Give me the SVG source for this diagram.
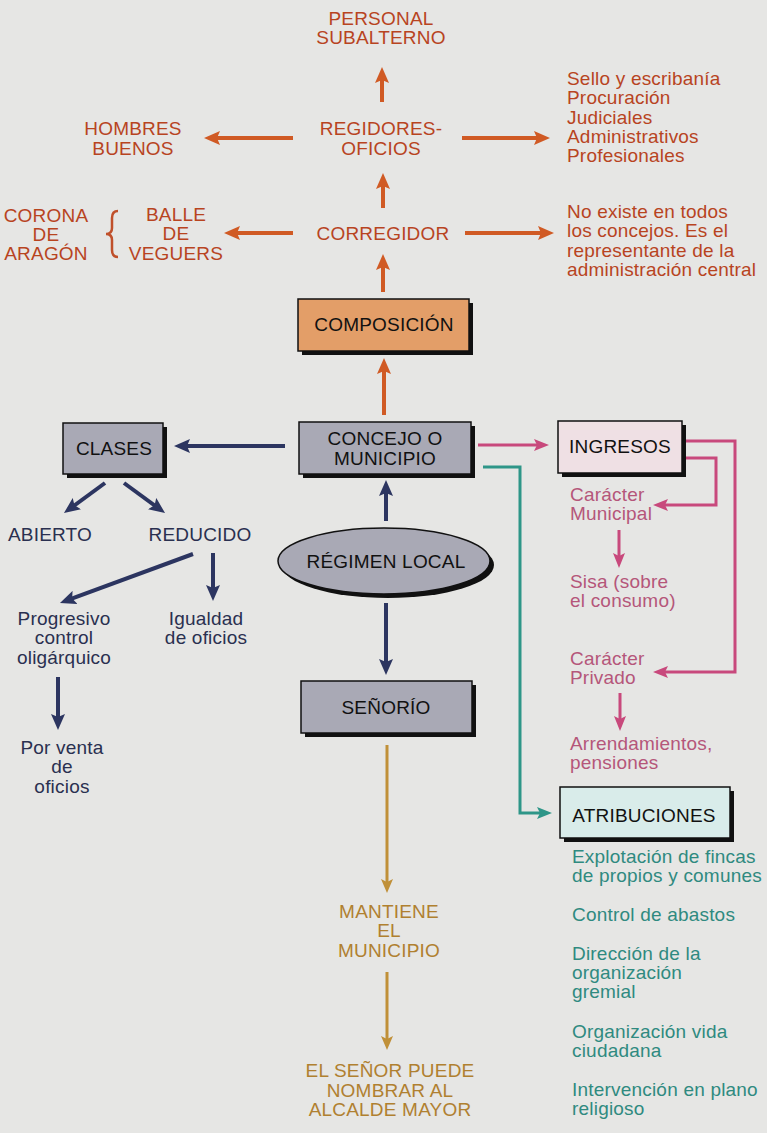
<svg xmlns="http://www.w3.org/2000/svg" width="767" height="1133" viewBox="0 0 767 1133">
<style>
text{font-family:"Liberation Sans",Arial,sans-serif;font-size:19px;letter-spacing:0.2px}
.o{fill:#b8441f}
.b{fill:#2a3050}
.p{fill:#b5567a}
.t{fill:#2f8a80}
.g{fill:#b08030}
.k{fill:#111}
.m{text-anchor:middle}
.box{stroke:#111;stroke-width:1.5}
.sh{fill:#111}
.lo{stroke:#d05a24;stroke-width:4;fill:none}
.lb{stroke:#2c3560;stroke-width:4;fill:none}
.lp{stroke:#c8497c;stroke-width:3;fill:none}
.lt{stroke:#2e9688;stroke-width:3;fill:none}
.lg{stroke:#c09038;stroke-width:3;fill:none}
</style>
<defs>
<marker id="ao" markerUnits="userSpaceOnUse" markerWidth="16" markerHeight="14" viewBox="0 0 16 14" refX="10" refY="7" orient="auto"><path d="M0,0 L16,7 L0,14 L3,7 z" fill="#d05a24"/></marker>
<marker id="ab" markerUnits="userSpaceOnUse" markerWidth="16" markerHeight="14" viewBox="0 0 16 14" refX="10" refY="7" orient="auto"><path d="M0,0 L16,7 L0,14 L3,7 z" fill="#2c3560"/></marker>
<marker id="ap" markerUnits="userSpaceOnUse" markerWidth="15" markerHeight="12" viewBox="0 0 15 12" refX="9" refY="6" orient="auto"><path d="M0,0 L15,6 L0,12 L3,6 z" fill="#c8497c"/></marker>
<marker id="at" markerUnits="userSpaceOnUse" markerWidth="15" markerHeight="12" viewBox="0 0 15 12" refX="9" refY="6" orient="auto"><path d="M0,0 L15,6 L0,12 L3,6 z" fill="#2e9688"/></marker>
<marker id="ag" markerUnits="userSpaceOnUse" markerWidth="14" markerHeight="12" viewBox="0 0 14 12" refX="8" refY="6" orient="auto"><path d="M0,0 L14,6 L0,12 L3,6 z" fill="#c09038"/></marker>
</defs>
<rect width="767" height="1133" fill="#e6e6e4"/>

<g id="connectors">
<line class="lo" x1="382" y1="102" x2="382" y2="73" marker-end="url(#ao)"/>
<line class="lo" x1="293" y1="138" x2="210" y2="138" marker-end="url(#ao)"/>
<line class="lo" x1="462" y1="138" x2="544" y2="138" marker-end="url(#ao)"/>
<line class="lo" x1="383" y1="208" x2="383" y2="179" marker-end="url(#ao)"/>
<line class="lo" x1="293" y1="233" x2="230" y2="233" marker-end="url(#ao)"/>
<line class="lo" x1="465" y1="233" x2="548" y2="233" marker-end="url(#ao)"/>
<line class="lo" x1="383" y1="292" x2="383" y2="260" marker-end="url(#ao)"/>
<line class="lo" x1="384" y1="415" x2="384" y2="364" marker-end="url(#ao)"/>
<path d="M118,211 Q112,211 112,218 L112,228 Q112,234 106,234 Q112,234 112,240 L112,250 Q112,257 118,257" stroke="#c0502a" stroke-width="2.5" fill="none"/>

<line class="lb" x1="285" y1="446" x2="180" y2="446" marker-end="url(#ab)"/>
<line class="lb" x1="105" y1="483" x2="68.8" y2="509.5" marker-end="url(#ab)"/>
<line class="lb" x1="124" y1="483" x2="160.2" y2="509.5" marker-end="url(#ab)"/>
<line class="lb" x1="193" y1="554" x2="65.6" y2="600.9" marker-end="url(#ab)"/>
<line class="lb" x1="213" y1="553" x2="213" y2="595" marker-end="url(#ab)"/>
<line class="lb" x1="58" y1="677" x2="58" y2="724" marker-end="url(#ab)"/>
<line class="lb" x1="386" y1="521" x2="386" y2="486" marker-end="url(#ab)"/>
<line class="lb" x1="386" y1="603" x2="386" y2="669" marker-end="url(#ab)"/>

<line class="lg" x1="387" y1="745" x2="387" y2="887" marker-end="url(#ag)"/>
<line class="lg" x1="387" y1="972" x2="387" y2="1044" marker-end="url(#ag)"/>

<line class="lp" x1="478" y1="445" x2="543" y2="445" marker-end="url(#ap)"/>
<polyline class="lp" points="682,441 735,441 735,672 659,672" marker-end="url(#ap)"/>
<polyline class="lp" points="682,458 716,458 716,505 659,505" marker-end="url(#ap)"/>
<line class="lp" x1="619" y1="530" x2="619" y2="562" marker-end="url(#ap)"/>
<line class="lp" x1="620" y1="693" x2="620" y2="725" marker-end="url(#ap)"/>

<polyline class="lt" points="483,467 520,467 520,813 546,813" marker-end="url(#at)"/>
</g>

<g id="composicion">
<rect class="sh" x="302" y="303" width="171" height="52"/>
<rect class="box" x="298" y="299" width="171" height="52" fill="#e39e68"/>
<text class="k m" x="384" y="331">COMPOSICIÓN</text>
</g>
<g id="concejo">
<rect class="sh" x="303" y="426" width="172" height="52"/>
<rect class="box" x="299" y="422" width="172" height="52" fill="#a9a9b5"/>
<text class="k m" x="385" y="445">CONCEJO O</text>
<text class="k m" x="385" y="465">MUNICIPIO</text>
</g>
<g id="clases">
<rect class="sh" x="67" y="427" width="100" height="51"/>
<rect class="box" x="63" y="423" width="100" height="51" fill="#a9a9b5"/>
<text class="k m" x="114" y="455">CLASES</text>
</g>
<g id="regimen">
<ellipse class="sh" cx="388" cy="565" rx="106" ry="33"/>
<ellipse class="box" cx="384" cy="561" rx="106" ry="33" fill="#a9a9b5"/>
<text class="k m" x="386" y="568">RÉGIMEN LOCAL</text>
</g>
<g id="senorio">
<rect class="sh" x="305" y="685" width="171" height="52"/>
<rect class="box" x="301" y="681" width="171" height="52" fill="#a9a9b5"/>
<text class="k m" x="386" y="714">SEÑORÍO</text>
</g>
<g id="ingresos">
<rect class="sh" x="562" y="425" width="124" height="52"/>
<rect class="box" x="558" y="421" width="124" height="52" fill="#efe0e4"/>
<text class="k m" x="620" y="453">INGRESOS</text>
</g>
<g id="atribuciones">
<rect class="sh" x="564" y="791" width="170" height="51"/>
<rect class="box" x="560" y="787" width="170" height="51" fill="#d9ecea"/>
<text class="k m" x="644" y="822">ATRIBUCIONES</text>
</g>

<g id="personal"><text class="o m" x="381" y="25">PERSONAL</text><text class="o m" x="381" y="44">SUBALTERNO</text></g>
<g id="regidores"><text class="o m" x="381" y="135">REGIDORES-</text><text class="o m" x="381" y="155">OFICIOS</text></g>
<g id="hombres"><text class="o m" x="133" y="135">HOMBRES</text><text class="o m" x="133" y="155">BUENOS</text></g>
<g id="oficios-list">
<text class="o" x="567" y="85">Sello y escribanía</text>
<text class="o" x="567" y="104">Procuración</text>
<text class="o" x="567" y="124">Judiciales</text>
<text class="o" x="567" y="143">Administrativos</text>
<text class="o" x="567" y="162">Profesionales</text>
</g>
<g id="corregidor"><text class="o m" x="383" y="240">CORREGIDOR</text></g>
<g id="balle"><text class="o m" x="176" y="221">BALLE</text><text class="o m" x="176" y="240">DE</text><text class="o m" x="176" y="260">VEGUERS</text></g>
<g id="corona"><text class="o m" x="46" y="222">CORONA</text><text class="o m" x="46" y="241">DE</text><text class="o m" x="46" y="260">ARAGÓN</text></g>
<g id="noexiste">
<text class="o" x="567" y="218">No existe en todos</text>
<text class="o" x="567" y="237">los concejos. Es el</text>
<text class="o" x="567" y="257">representante de la</text>
<text class="o" x="567" y="276">administración central</text>
</g>

<g id="abierto"><text class="b m" x="50" y="541">ABIERTO</text></g>
<g id="reducido"><text class="b m" x="200" y="541">REDUCIDO</text></g>
<g id="progresivo"><text class="b m" x="64" y="625">Progresivo</text><text class="b m" x="64" y="644">control</text><text class="b m" x="64" y="664">oligárquico</text></g>
<g id="igualdad"><text class="b m" x="206" y="625">Igualdad</text><text class="b m" x="206" y="644">de oficios</text></g>
<g id="porventa"><text class="b m" x="62" y="754">Por venta</text><text class="b m" x="62" y="773">de</text><text class="b m" x="62" y="793">oficios</text></g>

<g id="mantiene"><text class="g m" x="389" y="918">MANTIENE</text><text class="g m" x="389" y="937">EL</text><text class="g m" x="389" y="957">MUNICIPIO</text></g>
<g id="senor"><text class="g m" x="390" y="1077">EL SEÑOR PUEDE</text><text class="g m" x="390" y="1097">NOMBRAR AL</text><text class="g m" x="390" y="1116">ALCALDE MAYOR</text></g>

<g id="municipal"><text class="p" x="570" y="501">Carácter</text><text class="p" x="570" y="520">Municipal</text></g>
<g id="sisa"><text class="p" x="570" y="588">Sisa (sobre</text><text class="p" x="570" y="607">el consumo)</text></g>
<g id="privado"><text class="p" x="570" y="665">Carácter</text><text class="p" x="570" y="684">Privado</text></g>
<g id="arrendamientos"><text class="p" x="570" y="750">Arrendamientos,</text><text class="p" x="570" y="769">pensiones</text></g>

<g id="atrib-list">
<text class="t" x="572" y="863">Explotación de fincas</text>
<text class="t" x="572" y="882">de propios y comunes</text>
<text class="t" x="572" y="921">Control de abastos</text>
<text class="t" x="572" y="960">Dirección de la</text>
<text class="t" x="572" y="979">organización</text>
<text class="t" x="572" y="998">gremial</text>
<text class="t" x="572" y="1038">Organización vida</text>
<text class="t" x="572" y="1057">ciudadana</text>
<text class="t" x="572" y="1096">Intervención en plano</text>
<text class="t" x="572" y="1115">religioso</text>
</g>
</svg>
